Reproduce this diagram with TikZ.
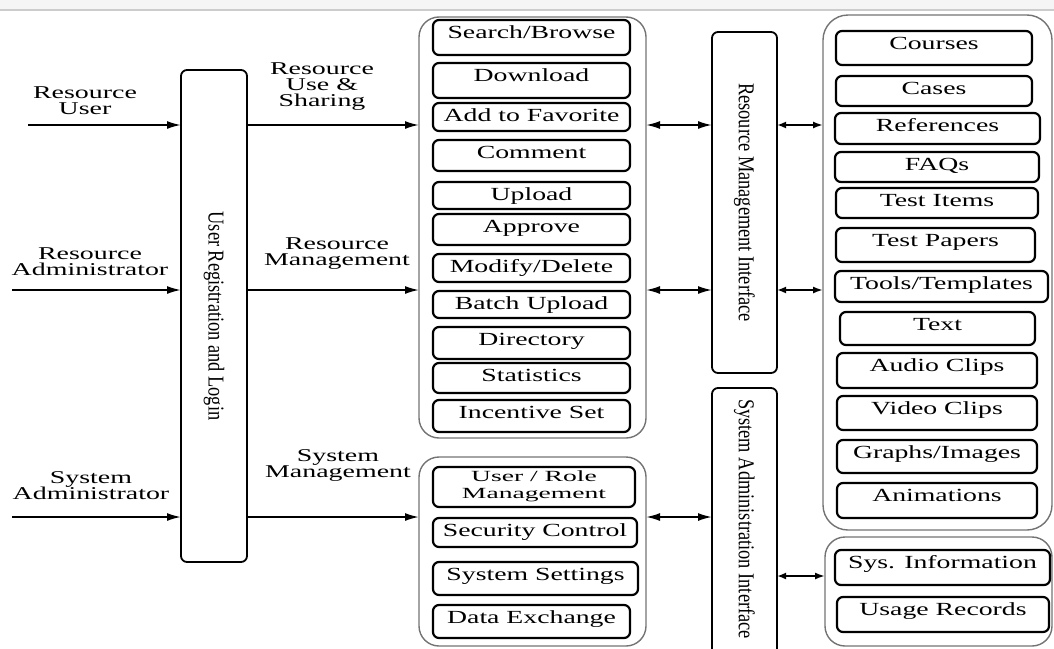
\documentclass[tikz,border=0pt]{standalone}
\usepackage{graphicx}
\usepackage{fontspec}
\setmainfont{Liberation Serif}
\usetikzlibrary{arrows.meta}

\tikzset{
  lab/.style={font={\fontsize{18}{16}\selectfont\lineskiplimit=-20pt}, align=center, inner sep=0pt, xscale=1.55},
  twoline/.style={font={\fontsize{15.5}{17}\selectfont\lineskiplimit=-20pt}, align=center, inner sep=0pt, xscale=1.78},
  txt/.style={font=\fontsize{18.5}{14}\selectfont, inner sep=0pt, anchor=base, xscale=1.5},
  vtxt/.style={font=\fontsize{18}{14}\selectfont, inner sep=0pt, rotate=-90},
  grp/.style={draw=black!55, line width=1.4pt, rounded corners=20pt, inner sep=0pt, outer sep=0pt},
  item/.style={draw=black, line width=2.2pt, rounded corners=6pt, inner sep=0pt, outer sep=0pt},
  bar/.style={draw=black, line width=1.8pt, rounded corners=6pt, inner sep=0pt, outer sep=0pt},
  flow/.style={line width=1.8pt, -{Latex[length=14pt,width=8pt]}},
  both/.style={line width=1.8pt, {Latex[length=14pt,width=8pt]}-{Latex[length=14pt,width=8pt]}},
  short/.style={line width=1.8pt, {Latex[length=9pt,width=7pt]}-{Latex[length=10pt,width=7pt]}},
}

% box node from its corners: style, name, x1, y1, x2, y2
\newcommand\bx[6]{%
  \node[#1, minimum width={(#5-#3)*1pt}, minimum height={(#6-#4)*1pt}]
    (#2) at ({(#3+#5)/2},{(#4+#6)/2}) {};}
% labelled item box: name, x1, y1, x2, y2, text
\newcommand\itembox[6]{%
  \bx{item}{#1}{#2}{#3}{#4}{#5}
  \node[txt] at ([yshift=-18pt]#1.north) {#6};}

\begin{document}
\begin{tikzpicture}[x=1pt,y=-1pt]
\useasboundingbox (0,0) rectangle (1054,648);
\clip (0,0) rectangle (1054,648);

% top strip
\fill[black!4] (0,0) rectangle (1054,10);
\draw[black!20, line width=1.5pt] (0,10) -- (1054,10);

% vertical bars
\bx{bar}{ureg}{181}{70}{247}{562}
\node[vtxt] at (ureg.center) {\scalebox{1.02}[1.26]{User Registration and Login}};
\bx{bar}{rmi}{712}{32}{777}{373}
\node[vtxt] at (rmi.center) {\scalebox{1.02}[1.26]{Resource Management Interface}};
\bx{bar}{sai}{712}{388}{777}{670}
\node[vtxt] at ([yshift=-131pt]sai.north) {\scalebox{1.02}[1.26]{System Administration Interface}};

% group frames
\bx{grp}{rgrp}{419}{17}{646}{438}
\bx{grp}{sgrp}{419}{457}{646}{646}
\bx{grp, rounded corners=25pt}{cgrp}{823}{15}{1052}{530}
\bx{grp}{igrp}{825}{537}{1052}{646}

% resource functions
\itembox{sb}{433}{20}{630}{55}{Search/Browse}
\itembox{dl}{433}{63}{630}{98}{Download}
\itembox{af}{433}{103}{630}{131}{Add to Favorite}
\itembox{cm}{433}{140}{630}{171}{Comment}
\itembox{ul}{433}{182}{630}{209}{Upload}
\itembox{ap}{433}{214}{630}{245}{Approve}
\itembox{md}{433}{254}{630}{282}{Modify/Delete}
\itembox{bu}{433}{291}{630}{318}{Batch Upload}
\itembox{dr}{433}{327}{630}{359}{Directory}
\itembox{st}{433}{363}{630}{393}{Statistics}
\itembox{is}{433}{400}{630}{432}{Incentive Set}

% system functions
\bx{item}{ur}{433}{467}{635}{507}
\node[twoline] at ([yshift=1pt]ur.center) {User / Role\\Management};
\itembox{sc}{433}{518}{637}{547}{Security Control}
\itembox{ss}{433}{562}{638}{595}{System Settings}
\itembox{de}{433}{605}{630}{638}{Data Exchange}

% resource types
\itembox{co}{836}{31}{1032}{65}{Courses}
\itembox{ca}{836}{76}{1032}{106}{Cases}
\itembox{rf}{835}{113}{1040}{144}{References}
\itembox{fq}{835}{152}{1039}{182}{FAQs}
\itembox{ti}{836}{188}{1038}{218}{Test Items}
\itembox{tp}{836}{228}{1035}{262}{Test Papers}
\itembox{tt}{835}{271}{1048}{302}{Tools/Templates}
\itembox{tx}{840}{312}{1035}{345}{Text}
\itembox{ac}{837}{353}{1037}{388}{Audio Clips}
\itembox{vc}{837}{396}{1037}{430}{Video Clips}
\itembox{gi}{837}{440}{1037}{473}{Graphs/Images}
\itembox{an}{837}{483}{1037}{518}{Animations}

% system data
\itembox{si}{835}{550}{1050}{585}{Sys. Information}
\itembox{ug}{837}{597}{1049}{632}{Usage Records}

% actors and flows
\coordinate (ruS) at (28,125);
\coordinate (raS) at (12,290);
\coordinate (saS) at (12,517);
\coordinate (siL) at (0,576);

\node[lab] (lru) at (85,101) {Resource\\User};
\node[lab] (lra) at (90,262) {Resource\\Administrator};
\node[lab] (lsa) at (91,486) {System\\Administrator};
\node[lab] (lus) at (322,87) {Resource\\Use \&\\Sharing};
\node[lab] (lrm) at (337,254) {Resource\\Management};
\node[lab] (lsm) at (338,465) {System\\Management};

\draw[flow] (ruS) -- (ureg.west |- ruS);
\draw[flow] (raS) -- (ureg.west |- raS);
\draw[flow] (saS) -- (ureg.west |- saS);
\draw[flow] (ureg.east |- ruS) -- (rgrp.west |- ruS);
\draw[flow] (ureg.east |- raS) -- (rgrp.west |- raS);
\draw[flow] (ureg.east |- saS) -- (sgrp.west |- saS);

\draw[both] (rgrp.east |- ruS) -- (rmi.west |- ruS);
\draw[both] (rgrp.east |- raS) -- (rmi.west |- raS);
\draw[both] (sgrp.east |- saS) -- (sai.west |- saS);

\draw[short] (rmi.east |- ruS) -- (cgrp.west |- ruS);
\draw[short] (rmi.east |- raS) -- (cgrp.west |- raS);
\draw[short] (sai.east |- siL) -- (igrp.west |- siL);
\end{tikzpicture}
\end{document}
